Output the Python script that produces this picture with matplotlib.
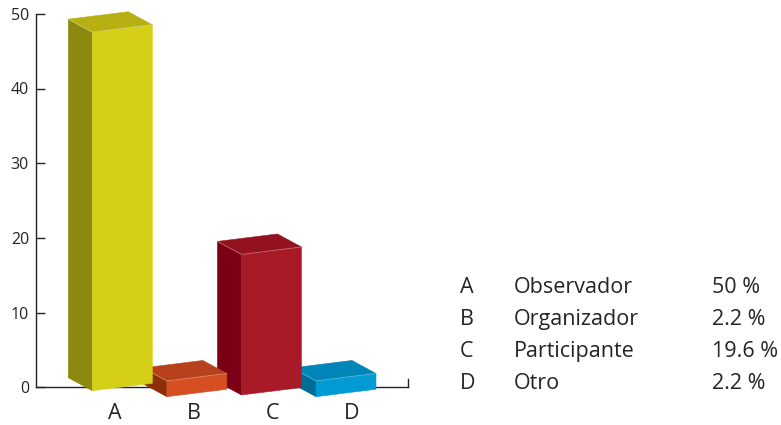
import matplotlib.pyplot as plt
from matplotlib.patches import Polygon

plt.rcParams['font.family'] = ['Open Sans', 'DejaVu Sans']

letters = ['A', 'B', 'C', 'D']
roles = ['Observador', 'Organizador', 'Participante', 'Otro']
percent = [50, 2.2, 19.6, 2.2]

# front / left side / top shades for each box
front_colors = ['#d6cf18', '#d54f22', '#a91a28', '#009bd5']
side_colors = ['#8b8a0e', '#8d2e06', '#7b0015', '#006d95']
top_colors = ['#b7b012', '#b6411a', '#941220', '#0085b8']

# fake 3d box geometry (data units)
floor = [-0.46, -1.26, -1.03, -1.26]
width = 0.759
rise = 1.0
depth_x, depth_y = -0.304, 1.74
scale = 0.96
ink = '#262324'

fig = plt.figure(figsize=(7.81, 4.25), dpi=100)
ax = fig.add_axes([36 / 781, 1 - 387.3 / 425, (408.3 - 36) / 781, (387.3 - 13.8) / 425])
ax.set_xlim(-0.994, 3.719)
ax.set_ylim(0, 50)

for i in range(len(percent) - 1, -1, -1):
    x0 = -0.281 + 0.944 * i
    b = floor[i]
    h = percent[i] * scale
    z = 10 - i
    front = [(x0, b), (x0 + width, b + rise), (x0 + width, b + rise + h), (x0, b + h)]
    side = [(x0, b), (x0, b + h), (x0 + depth_x, b + h + depth_y), (x0 + depth_x, b + depth_y)]
    top = [(x0, b + h), (x0 + width, b + rise + h),
           (x0 + width + depth_x, b + rise + h + depth_y), (x0 + depth_x, b + h + depth_y)]
    for pts, col in [(side, side_colors[i]), (front, front_colors[i]), (top, top_colors[i])]:
        ax.add_patch(Polygon(pts, closed=True, facecolor=col, edgecolor=col,
                             linewidth=0.4, zorder=z, clip_on=False))
    # light seam along the top edges
    ax.plot([x0 + depth_x, x0, x0 + width], [b + h + depth_y, b + h, b + rise + h],
            color='white', alpha=0.35, linewidth=0.6, zorder=z + 0.1, clip_on=False)

ax.spines['top'].set_visible(False)
for s in ['left', 'bottom', 'right']:
    ax.spines[s].set_color(ink)
    ax.spines[s].set_linewidth(1.0)
ax.spines['right'].set_bounds(0, 1.1)

ax.set_yticks(range(0, 51, 10))
ax.tick_params(axis='y', direction='in', length=6.5, width=1.0, color=ink,
               labelsize=11.5, labelcolor=ink, pad=5)
ax.set_xticks(range(len(letters)))
ax.set_xticklabels(letters)
ax.tick_params(axis='x', length=0, labelsize=15.5, labelcolor=ink, pad=11)
ax.patch.set_visible(False)

# side table of categories
for k in range(len(letters)):
    y = 1 - (293 + 32 * k) / 425
    fig.text(460 / 781, y, letters[k], fontsize=15.5, color=ink, va='baseline')
    fig.text(514 / 781, y, roles[k], fontsize=15.5, color=ink, va='baseline')
    fig.text(712 / 781, y, f'{percent[k]:g} %', fontsize=15.5, color=ink, va='baseline')

fig.savefig('out.png', dpi=100)
